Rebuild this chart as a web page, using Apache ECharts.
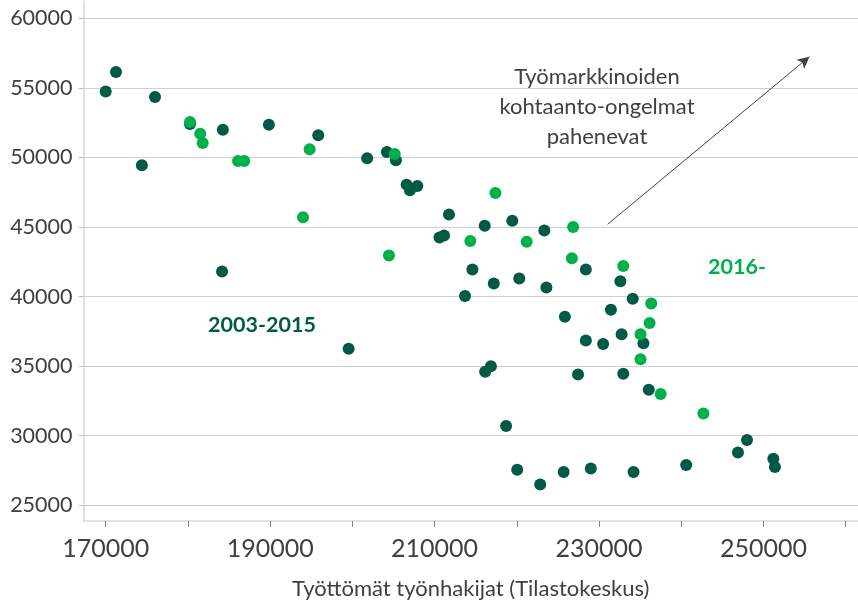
<!DOCTYPE html>
<html>
<head>
<meta charset="utf-8">
<script src="https://cdn.jsdelivr.net/npm/echarts@6/dist/echarts.min.js"></script>
<style>
  html, body { margin: 0; padding: 0; background: #fff; }
  #chart { width: 858px; height: 602px; }
</style>
</head>
<body>
<div id="chart"></div>
<script>
// 2003-2015 (tumma vihreä): [työttömät työnhakijat, avoimet työpaikat]
const points2003 = [
  [170000, 54750], [171250, 56150], [176000, 54350], [174400, 49450],
  [180250, 52400], [184250, 52000], [189850, 52350], [195850, 51600],
  [184150, 41800], [199550, 36250], [201800, 49950], [204200, 50400],
  [205300, 49800], [206600, 48050], [207000, 47650], [207900, 47950],
  [210600, 44250], [211150, 44400], [211750, 45900], [216100, 45100],
  [219450, 45450], [223350, 44750], [214600, 41950], [228400, 41950],
  [217200, 40950], [220300, 41300], [223600, 40650], [213700, 40050],
  [225850, 38550], [231450, 39050], [228400, 36850], [230500, 36600],
  [216150, 34600], [216850, 35000], [227450, 34400], [232600, 41100],
  [234100, 39850], [232750, 37300], [235400, 36650], [232950, 34450],
  [236050, 33300], [218700, 30700], [220050, 27550], [222850, 26500],
  [225700, 27400], [229000, 27650], [234200, 27400], [240600, 27900],
  [246900, 28800], [248000, 29700], [251200, 28350], [251400, 27750]
];

// 2016- (kirkas vihreä)
const points2016 = [
  [180250, 52550], [181500, 51700], [181800, 51050], [186100, 49750],
  [186850, 49750], [194800, 50600], [194000, 45700], [205150, 50250],
  [204450, 42950], [217400, 47450], [214350, 44000], [221200, 43950],
  [226850, 45000], [226700, 42750], [232950, 42200], [236350, 39500],
  [236150, 38100], [235050, 37300], [235050, 35500], [237500, 33000],
  [242700, 31600]
];

const xLabelValues = [170000, 190000, 210000, 230000, 250000];
const xTickValues = [170000, 180000, 190000, 200000, 210000, 220000, 230000, 240000, 250000, 260000];
const yTickValues = [25000, 30000, 35000, 40000, 45000, 50000, 55000, 60000];

const arrowFrom = [231050, 45200];
const arrowTo = [255600, 57250];
const noteLines = ['Työmarkkinoiden', 'kohtaanto-ongelmat', 'pahenevat'];

const darkGreen = '#005a46';
const brightGreen = '#00b04a';
const textGray = '#404040';
const font = 'Lato';

const chart = echarts.init(document.getElementById('chart'));

const option = {
  animation: false,
  grid: { left: 83.5, right: 0, top: 1, bottom: 81, outerBoundsMode: 'none', containLabel: false },
  xAxis: {
    type: 'value',
    min: 167300,
    max: 261500,
    axisLine: { show: true, onZero: false, lineStyle: { color: '#d9d9d9', width: 1.5 } },
    axisTick: { show: true, customValues: xTickValues, length: 6, lineStyle: { color: '#7f7f7f' } },
    axisLabel: {
      customValues: xLabelValues, fontSize: 25, color: textGray, margin: 15, fontFamily: font,
      formatter: v => String(v)
    },
    splitLine: { show: false },
    name: 'Työttömät työnhakijat (Tilastokeskus)',
    nameLocation: 'middle',
    nameGap: 57,
    nameTextStyle: { fontSize: 22, color: textGray, fontFamily: font }
  },
  yAxis: {
    type: 'value',
    min: 23870,
    max: 61250,
    axisLine: { show: true, lineStyle: { color: '#d9d9d9', width: 1.5 } },
    axisTick: { show: true, customValues: yTickValues, length: 5, lineStyle: { color: '#bfbfbf' } },
    axisLabel: {
      customValues: yTickValues, fontSize: 21.5, color: textGray, margin: 11, fontFamily: font,
      formatter: v => String(v)
    },
    splitLine: { show: true, lineStyle: { color: '#d0d0d0', width: 1.2 } }
  },
  series: [
    {
      name: '2003-2015',
      type: 'scatter',
      data: points2003,
      symbolSize: 12,
      itemStyle: { color: darkGreen, opacity: 1 },
      markLine: {
        silent: true,
        symbol: ['none', 'arrow'],
        symbolSize: [9, 12],
        lineStyle: { color: '#404040', width: 1, type: 'solid' },
        label: { show: false },
        data: [[{ coord: arrowFrom }, { coord: arrowTo }]]
      }
    },
    {
      name: '2016-',
      type: 'scatter',
      data: points2016,
      symbolSize: 12,
      itemStyle: { color: brightGreen, opacity: 1 }
    }
  ],
  graphic: [
    {
      type: 'text', x: 597, y: 107,
      style: {
        text: noteLines.join('\n'), fill: textGray, font: '22px ' + font,
        align: 'center', verticalAlign: 'middle', lineHeight: 30
      }
    },
    {
      type: 'text', x: 262, y: 325,
      style: { text: '2003-2015', fill: darkGreen, font: 'bold 21.5px ' + font, align: 'center', verticalAlign: 'middle' }
    },
    {
      type: 'text', x: 737, y: 267,
      style: { text: '2016-', fill: brightGreen, font: 'bold 21.5px ' + font, align: 'center', verticalAlign: 'middle' }
    }
  ]
};

chart.setOption(option);
window.addEventListener('resize', function () { chart.resize(); });
</script>
</body>
</html>
